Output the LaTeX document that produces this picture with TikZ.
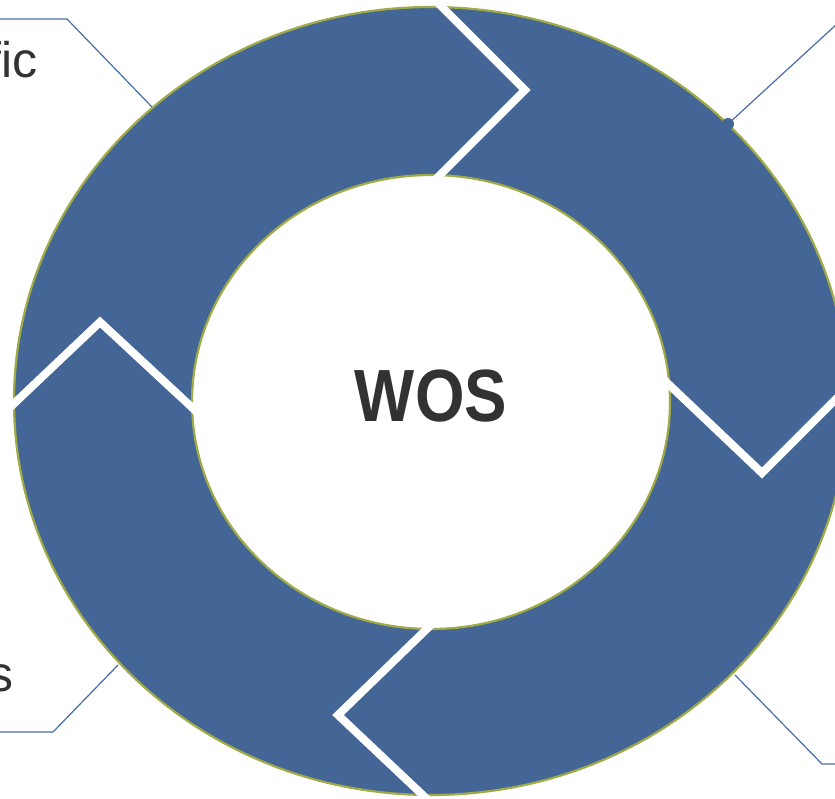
\documentclass[tikz,border=0pt]{standalone}
\usepackage{fontspec}
\setmainfont{Liberation Sans}
\definecolor{ringblue}{RGB}{67,102,150}
\definecolor{ringedge}{RGB}{160,170,70}
\definecolor{leader}{RGB}{72,108,165}
\definecolor{txt}{RGB}{50,50,50}
\begin{document}
\begin{tikzpicture}[x=1pt,y=-1pt,
  ring/.style={fill=ringblue,draw=ringedge,line width=2.2pt,even odd rule},
  gap/.style={draw=white,line width=8pt,line join=miter},
  leaderline/.style={draw=leader,line width=1.2pt},
  lbl/.style={text=txt,font=\fontsize{50}{56}\selectfont,inner sep=0pt}]
\useasboundingbox (0,0) rectangle (835,798);
\clip (0,0) rectangle (835,798);
% ring
\path[ring] (431,401) ellipse [x radius=417,y radius=394]
            (431,402) ellipse [x radius=239,y radius=227];
% chevron gaps
\draw[gap] (432,-3) -- (525,90) -- (432,183);
\draw[gap] (662,378) -- (762,473) -- (870,365);
\draw[gap] (433,623) -- (338,715) -- (428,800);
\draw[gap] (3,414) -- (100,322) -- (198,413);
% centre label
\node[text=txt,font=\fontsize{74}{80}\selectfont\bfseries,inner sep=0pt,xscale=0.86] (wos) at (431,396) {WOS};
% leader lines and labels
\coordinate (tl0) at (-5,19);
\coordinate (tl1) at (67,19);
\coordinate (tl2) at (152,107);
\draw[leaderline] (tl0) -- (tl1) -- (tl2);
\node[lbl,anchor=base east] (fic) at (38,77) {fic};
\coordinate (bl0) at (-5,732);
\coordinate (bl1) at (53,732);
\coordinate (bl2) at (118,665);
\draw[leaderline] (bl0) -- (bl1) -- (bl2);
\node[lbl,anchor=base east] (s) at (14,691) {s};
\coordinate (tr0) at (728,124);
\coordinate (tr1) at (850,12);
\draw[leaderline] (tr0) -- (tr1);
\fill[ringblue] (tr0) circle (6);
\coordinate (br0) at (735,675);
\coordinate (br1) at (822,764);
\coordinate (br2) at (850,764);
\draw[leaderline] (br0) -- (br1) -- (br2);
\end{tikzpicture}
\end{document}
